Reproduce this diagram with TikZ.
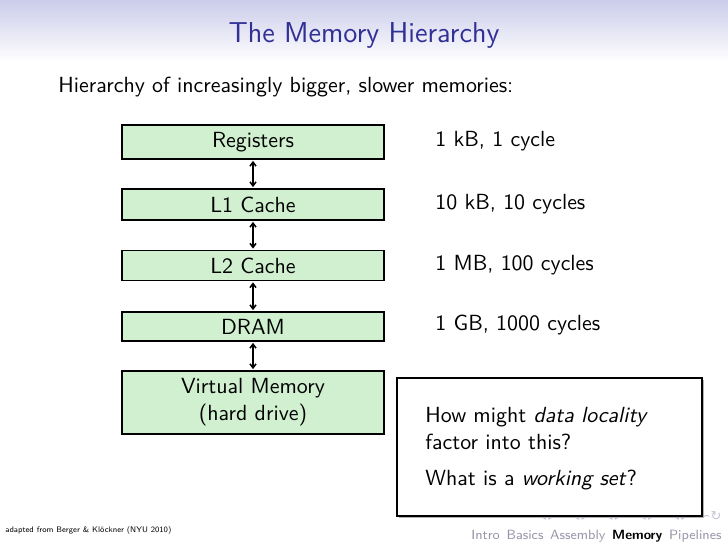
\documentclass[tikz,border=0pt]{standalone}
\usepackage{fontspec}
\newfontfamily\symfont{DejaVu Sans}
\usetikzlibrary{arrows.meta}
\definecolor{boxgreen}{RGB}{208,240,208}
\definecolor{titleblue}{RGB}{48,48,150}
\definecolor{titletop}{RGB}{203,204,234}
\definecolor{navgray}{RGB}{150,150,170}
\definecolor{navsym}{RGB}{195,195,215}
\tikzset{
  mem/.style={draw=black, line width=0.9pt, fill=boxgreen, minimum width=131pt, inner sep=0pt, align=center, font=\sffamily\fontsize{10.95}{13.5}\selectfont},
  lab/.style={anchor=west, inner sep=0pt, font=\sffamily\fontsize{10.95}{13}\selectfont},
  link/.style={{Straight Barb[length=2pt,width=3pt]}-{Straight Barb[length=2pt,width=3pt]}, line width=0.75pt, shorten <=0.5pt, shorten >=0.5pt},
}
\begin{document}
\begin{tikzpicture}[x=0.5pt,y=-0.5pt]
\useasboundingbox (0,0) rectangle (728,546);
\shade[top color=titletop, bottom color=white] (0,0) rectangle (728,62);
\node[text=titleblue, font=\sffamily\fontsize{14.4}{17}\selectfont] (title) at (364,35) {The Memory Hierarchy};
\node[anchor=west, inner sep=0pt, font=\sffamily\fontsize{10.95}{13}\selectfont] (intro) at (58,87) {Hierarchy of increasingly bigger, slower memories:};

\node[mem, minimum height=17pt] (reg) at (253,142) {Registers};
\node[mem, minimum height=15.5pt] (l1) at (253,204.5) {L1 Cache};
\node[mem, minimum height=15pt] (l2) at (253,265.5) {L2 Cache};
\node[mem, minimum height=14.5pt] (dram) at (253,326.5) {DRAM};
\node[mem, minimum height=31.5pt] (vm) at (253,402.5) {Virtual Memory\\(hard drive)};

\draw[link] (reg) -- (l1);
\draw[link] (l1) -- (l2);
\draw[link] (l2) -- (dram);
\draw[link] (dram) -- (vm);

\node[lab] (t1) at (435,141) {1 kB, 1 cycle};
\node[lab] (t2) at (435,204) {10 kB, 10 cycles};
\node[lab] (t3) at (435,265) {1 MB, 100 cycles};
\node[lab] (t4) at (435,325) {1 GB, 1000 cycles};

% footer
\node[anchor=west, inner sep=0pt, font=\sffamily\fontsize{4.05}{5}\selectfont] (credit) at (5,530) {adapted from Berger \& Klöckner (NYU 2010)};
\node[anchor=east, inner sep=0pt, font=\sffamily\fontsize{6.7}{8}\selectfont] (nav) at (722,536)
  {\textcolor{navgray}{Intro\enspace Basics\enspace Assembly}\enspace \textbf{Memory}\enspace\textcolor{navgray}{Pipelines}};
\node[anchor=east, inner sep=0pt, text=navsym, font=\symfont\fontsize{6.5}{7}\selectfont] (navsyms) at (722,516)
  {◂\,▸\hspace{9pt}◂\,▸\hspace{9pt}◂\,▸\hspace{9pt}◂\,▸\hspace{9pt}◂\,▸\hspace{6pt}∽↻};

% popup
\fill[black!30] (399,380) rectangle (704,518);
\node[draw=black, line width=0.9pt, fill=white, minimum width=152.5pt, minimum height=69pt, inner sep=0pt, anchor=north west] (pop) at (396,377) {};
\node[anchor=north west, inner sep=0pt, align=left, font=\sffamily\fontsize{10.95}{13.5}\selectfont] (q) at (425,407)
  {How might \textit{data locality}\\factor into this?\\[4.5pt]What is a \textit{working set}?};
\end{tikzpicture}
\end{document}
